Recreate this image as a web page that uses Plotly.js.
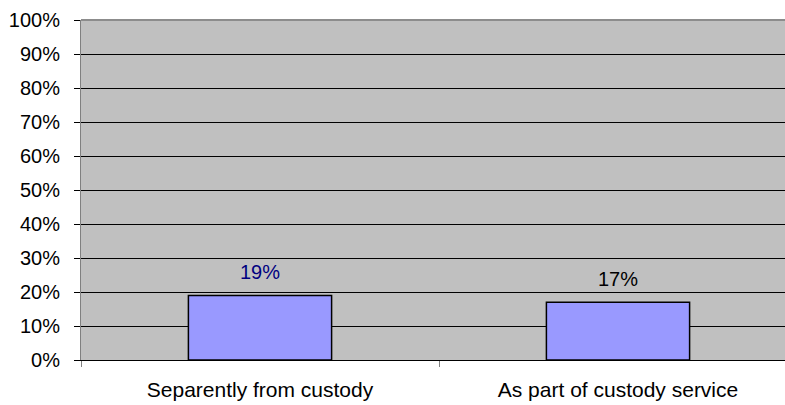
<!DOCTYPE html>
<html>
<head>
<meta charset="utf-8">
<script src="https://cdn.plot.ly/plotly-3.0.1.min.js"></script>
<style>
  html, body { margin: 0; padding: 0; overflow: hidden; background: #fff; }
  #chart { width: 800px; height: 405px; }
</style>
</head>
<body>
<div id="chart"></div>
<script>
// Share of respondents by how the service is provided
const categories = ['Separently from custody', 'As part of custody service'];
const shares = [0.19, 0.17];
const labelColors = ['#000080', '#000000'];

const font = 'Liberation Sans, Arial, sans-serif';

const trace = {
  type: 'bar',
  x: categories,
  y: shares,
  width: 0.4,
  marker: { color: '#9999ff', line: { color: '#000000', width: 1.5 } },
  hoverinfo: 'skip'
};

const annotations = categories.map((c, i) => ({
  x: c,
  y: shares[i],
  xref: 'x',
  yref: 'y',
  text: Math.round(shares[i] * 100) + '%',
  showarrow: false,
  yanchor: 'bottom',
  yshift: 10,
  font: { family: font, size: 20, color: labelColors[i] }
}));

const layout = {
  width: 800,
  height: 405,
  margin: { l: 81, r: 3, t: 20, b: 45 },
  paper_bgcolor: '#ffffff',
  plot_bgcolor: '#c0c0c0',
  showlegend: false,
  font: { family: font, size: 20, color: '#000000' },
  xaxis: {
    type: 'category',
    tickson: 'boundaries',
    ticks: 'outside',
    ticklen: 6,
    tickcolor: '#808080',
    showline: true,
    linecolor: '#000000',
    linewidth: 1,
    showgrid: false,
    ticklabelstandoff: 11,
    tickfont: { family: font, size: 21, color: '#000000' }
  },
  yaxis: {
    range: [0, 1],
    dtick: 0.1,
    tickformat: '.0%',
    ticks: 'outside',
    ticklen: 6,
    tickcolor: '#000000',
    showline: true,
    linecolor: '#808080',
    linewidth: 1,
    showgrid: true,
    gridcolor: '#000000',
    gridwidth: 1,
    zeroline: false,
    ticklabelstandoff: 10,
    tickfont: { family: font, size: 20, color: '#000000' }
  },
  shapes: [{
    type: 'line', xref: 'paper', yref: 'paper',
    x0: 0, x1: 1, y0: 1, y1: 1,
    line: { color: '#8c8c8c', width: 2 }
  }],
  annotations: annotations
};

Plotly.newPlot('chart', [trace], layout, { displayModeBar: false, staticPlot: true });
</script>
</body>
</html>
